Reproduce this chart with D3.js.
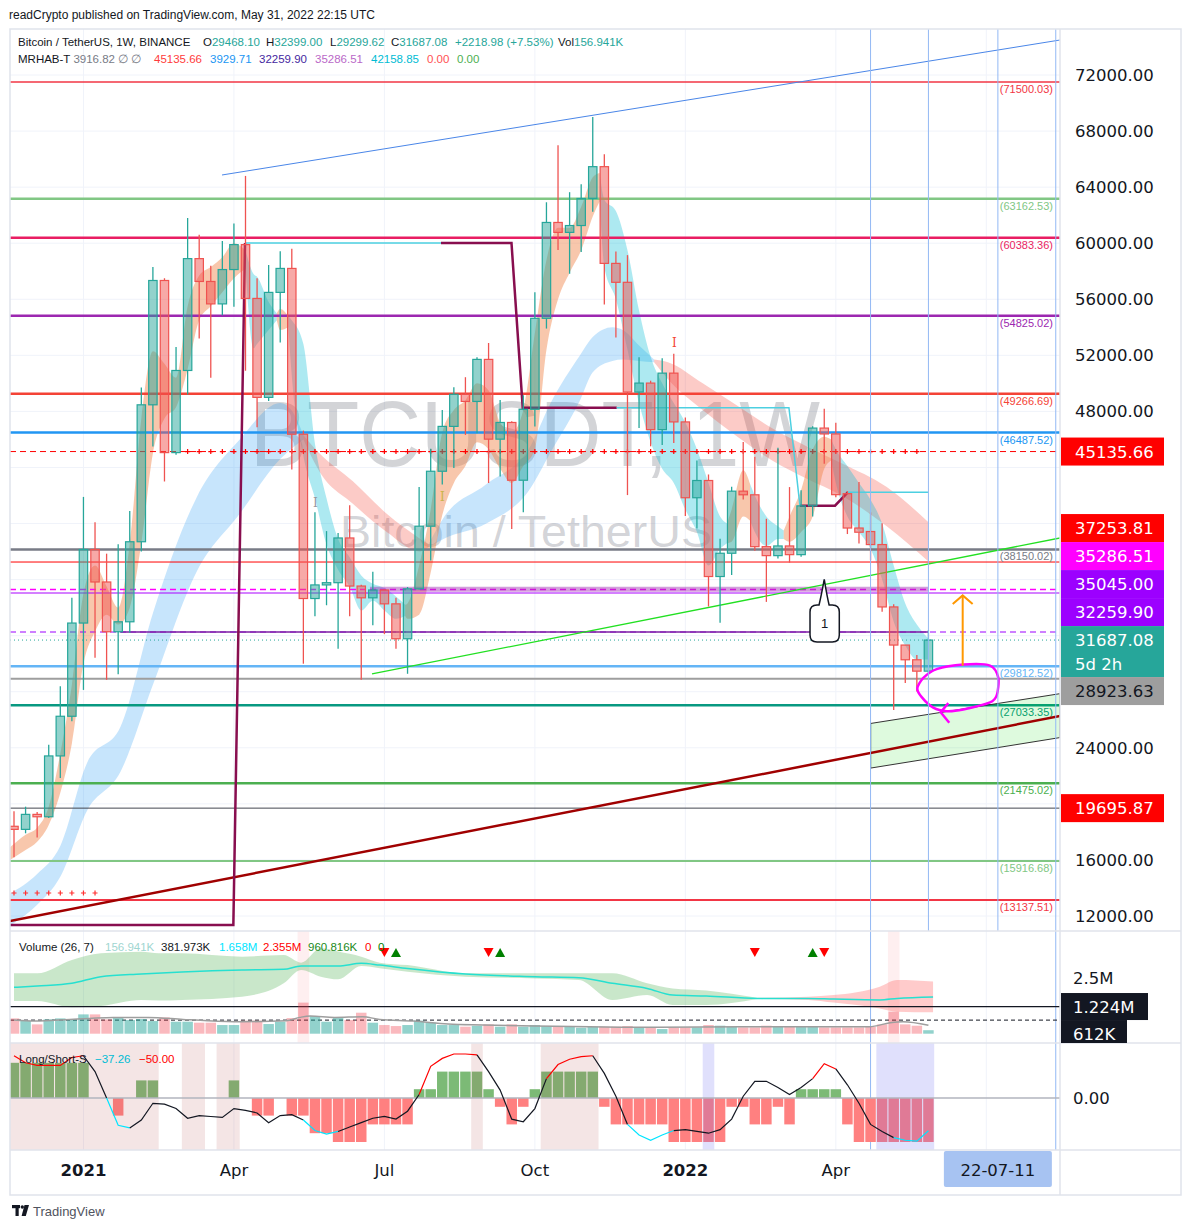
<!DOCTYPE html>
<html>
<head>
<meta charset="utf-8">
<script src="https://cdn.jsdelivr.net/npm/d3@7"></script>
<style>
html,body{margin:0;padding:0;background:#fff;overflow:hidden;}
svg{display:block;}
</style>
</head>
<body>
<svg id="chart" width="1191" height="1229"></svg>
<script>
// ================= DATA =================
const opens=[18400,18180,19250,19080,23420,26250,32900,38150,35830,32280,32990,38700,48470,57340,45060,50920,58900,57270,55670,58120,59900,56060,49000,56490,58200,46370,34650,35620,35780,38970,35540,34700,35260,34270,31780,35340,39810,43730,46930,49220,48710,51710,46020,47210,43090,48150,54640,61480,60770,61260,63190,65460,58560,57210,49380,50020,46700,50730,47250,41840,43070,36220,37880,42310,42050,38350,37710,38400,37780,41260,46810,46390,42130,39680,39430,38500,34050,31330,30280,29468.10];
const highs=[19480,19800,19420,24220,28400,34700,41900,40100,37850,38530,40900,49700,58300,57500,52600,61800,60600,58400,60150,61400,64800,57500,58450,59420,59600,46630,40800,39460,39330,41310,35640,36560,35290,34700,35470,42600,45330,48100,49730,50440,51870,52880,48820,47290,49150,56500,62920,66980,63640,64200,69000,66340,59410,59150,51870,50190,51800,52110,47560,44490,43500,38920,42620,45820,44760,40340,45400,42600,42380,46940,48190,47190,42310,42960,40800,40020,34250,31330,30620,32399.00];
const lows=[16200,17900,17600,19000,21850,25900,28130,30420,28850,29240,32200,38000,45500,43000,44900,49200,53200,50400,54860,55460,50900,46870,48750,52910,43860,30000,33380,34170,31060,33380,28850,32740,32110,31070,29280,35290,37370,42790,43960,46320,46450,42890,43350,39610,40800,46930,53910,59510,57820,59370,62240,55620,53270,42030,46820,45510,45610,45750,40530,39650,34080,32920,36330,41720,38060,34410,37500,37210,37630,40500,44260,41880,39250,38580,37380,33710,26700,28630,28020,29299.62];
const closes=[18180,19250,19080,23420,26250,32900,38150,35830,32280,32990,38700,48470,57340,45060,50920,58900,57270,55670,58120,59900,56060,49000,56490,58200,46370,34650,35620,35780,38970,35540,34700,35260,34270,31780,35340,39810,43730,46930,49220,48710,51710,46020,47210,43090,48150,54640,61480,60770,61260,63190,65460,58560,57210,49380,50020,46700,50730,47250,41840,43070,36220,37880,42310,42050,38350,37710,38400,37780,41260,46810,46390,42060,39680,39380,38500,34050,31330,30280,29468.10,31687.08];
const volumesK=[690,570,420,645,690,645,870,870,645,735,615,660,570,735,540,540,495,495,390,390,585,585,435,540,705,1400,795,540,735,615,945,495,390,345,390,585,495,390,390,315,360,420,315,420,315,390,345,345,315,270,315,315,315,345,285,285,210,285,285,285,390,360,315,285,285,360,345,315,315,315,285,285,285,285,315,420,990,420,360,156.941];
const volMA=[[0,615],[1.8,570],[4.8,645],[6.5,690],[8.6,735],[11.6,735],[14.6,645],[16.7,585],[19.6,540],[23.5,585],[24.7,735],[25.6,795],[27.7,735],[30.1,765],[31.6,645],[34.5,570],[37.5,435],[40.5,390],[45,345],[55.6,285],[62.9,315],[73.9,315],[75.7,495],[76.8,540],[79,382]];
const volBandGreen=[[0,2.72,1.47],[2,2.72,1.47],[5,3.32,1.19],[7.5,3.62,1.25],[11,3.69,1.52],[12.5,3.62,1.49],[14.5,3.62,1.52],[19.7,3.47,1.67],[23.3,3.54,2.27],[24.8,3.2,2.87],[26.5,3.85,2.57],[28,3.7,2.45],[30,3.47,3.05],[31.6,3.2,2.95],[34,3.09,2.79],[39,2.72,2.57],[45,2.72,2.49],[48.8,2.72,2.42],[51.7,2.72,1.52],[54.7,2.27,1.74],[56.9,2.04,1.29],[59.8,1.95,1.29],[64.2,1.62,1.56]];
const volBandPink=[[64.2,1.62,1.56],[68.6,1.67,1.52],[70.8,1.74,1.40],[74.8,2.12,1.14],[76.3,2.42,0.99],[79.4,2.355,0.961]];
const volBandMid=[[0,2.09],[2,2.15],[5,2.27],[7.5,2.57],[11,2.69],[14.5,2.78],[19.7,2.87],[23.3,2.90],[24.8,3.05],[28,3.05],[30,3.17],[31.6,3.09],[34,2.94],[39,2.69],[45,2.57],[48.8,2.52],[51.7,2.27],[54.7,2.04],[56.9,1.74],[59.8,1.70],[64.2,1.59],[68.6,1.59],[70.8,1.56],[74.8,1.52],[76.3,1.59],[79.4,1.658]];
const volSignalDown=[32,41,64,70];
const volSignalUp=[33,42,69];
const volShade=[[24.5,25.5],[75.5,76.5]];
const lsHist=[40,40,40,40,40,40,40,0,0,-20,0,20,20,0,0,0,0,0,0,20,0,-20,-20,0,-20,-20,-40,-40,-50,-50,-50,-30,-30,-30,-30,10,10,30,30,30,30,10,-10,-30,-10,10,30,30,30,30,30,-10,-30,-30,-30,-30,-30,-50,-50,-50,-50,-50,-10,-10,-30,-30,-10,-30,10,10,10,10,-30,-50,-50,-50,-50,-50,-50,-50];
const lsLine=[48,40,37,37,37,46,48,30,0,-31,-34,-25,-6,-7,-12,-23,-20,-21,-22,-12,-14,-17,-28,-20,-19,-25,-37,-41,-38,-33,-28,-23,-21,-24,-15,4,36,45,50,50,49,30,9,-24,-27,-12,22,38,44,47,48,28,2,-30,-42,-48,-42,-37,-36,-38,-40,-36,-24,2,19,19,12,4,12,22,39,33,15,-6,-30,-38,-45,-48,-49,-37.26];
const lsColorRuns=[['r',0,6],['k',6,8],['c',8,10],['k',10,25],['c',25,28],['k',28,35],['r',35,40],['k',40,46],['r',46,50],['k',50,53],['c',53,57],['k',57,69],['r',69,71],['k',71,76],['c',76,79]];
const lsPinkShade=[[-0.5,12.5],[14.5,16.5],[17.5,19.5],[39.5,40.5],[45.5,50.5]];
const lsLavShade=[[59.5,60.5],[74.5,79.5]];
const priceTicks=[72000,68000,64000,60000,56000,52000,48000,44000,40000,36000,32000,28000,24000,20000,16000,12000];
const timeIdx=[6,19,32,45,58,71];
const timeLabels=['2021','Apr','Jul','Oct','2022','Apr'];
const timeBold=[true,false,false,false,true,false];
const gridTimeIdx=[6,19,32,45,58,71,84];
const crossIdx=85, crossLabel='22-07-11';
const levelValues=[71500.03,63162.53,60383.36,54825.02,49266.69,46487.52,38150.02,29812.52,27033.35,21475.02,15916.68,13137.51];
const levelColors=['#f23645','#81c784','#e91e63','#9c27b0','#f44336','#2196f3','#787b86','#64b5f6','#089981','#4caf50','#81c784','#f23645'];
const levelWidths=[1.5,2.5,2.5,2.5,2.5,2.5,2.5,2.5,2.5,2.5,2,2];
const extraValues=[45135.66,37253.81,35286.51,35045.00,32259.90,31687.08,28923.63,19695.87];
const extraColors=['#ff0000','#ff0000','#ff00ff','#aa00ff','#9c00ff','#26a69a','#9e9e9e','#434651'];
const extraWidths=[1,1,1.5,1.2,1.2,1,2,1];
const extraDash=['6,4',null,'6,4',null,'6,4','1,3',null,null];
const boxValues=[45135.66,37253.81,35286.51,35045.00,32259.90,31687.08,28923.63,19695.87];
const boxSub=['','','','','','5d 2h','',''];
const boxColors=['#ff0000','#ff0000','#ff00ff','#9c00ff','#9c00ff','#26a69a','#9e9e9e','#ff0000'];
const boxText=['#fff','#fff','#fff','#fff','#fff','#fff','#131722','#fff'];
const lastPriceBox=5;
const fastSegs=[
 {c:'o',pts:[[-0.35,16900,16000],[1,17800,16700],[2,18300,17300],[3,19800,18500],[4,23600,20800],[5,28500,24300],[6,35000,30000],[7,37000,32300],[8,35500,33500],[9,34000,32800],[10,38600,34000],[11,47500,38600],[12,52300,45000],[13,51400,47500],[14,50400,48300],[15,55500,51000],[16,57700,54500],[17,58300,55500],[18,59000,56500],[19,60000,57500],[20,59500,58200]]},
 {c:'c',pts:[[20,59500,58200],[20.7,57800,52500],[21,57600,52800],[22,55800,53800],[22.7,55000,54500]]},
 {c:'o',pts:[[22.7,55000,54500],[23,55300,53800],[23.7,54800,54000]]},
 {c:'c',pts:[[23.7,54800,54000],[24,54500,50500],[25,52800,44800],[26,45700,41800],[27,41800,38500],[28,38900,36700],[29,37600,35500],[30,36300,33800],[31,35700,34500],[32,35400,33800],[33,34800,33200],[33.8,34200,33400]]},
 {c:'o',pts:[[33.8,34200,33400],[34,34300,33200],[35,37000,33500],[36,41000,36500],[37,46500,40600],[38,48100,42900],[39,48800,44100],[40,50000,45800],[41,49500,45300],[42,47200,43900],[43,46500,42900],[44,48100,44100],[45,53600,45300],[46,58800,52400],[47,61100,56000],[48,61100,57900],[49,62600,59500],[50,64700,61900],[50.6,65000,63000]]},
 {c:'c',pts:[[50.6,65000,63000],[51,63100,58300],[52,62300,56000],[53,59500,52400],[54,55200,48600],[55,51900,45800],[56,50000,43900],[57,48600,42900],[58,47200,41000],[59,45300,39400],[60,42900,37000],[61,40500,38200],[61.6,40000,38600]]},
 {c:'o',pts:[[61.6,40000,38600],[62,41000,38700],[63,43800,40500],[63.6,42800,40200]]},
 {c:'c',pts:[[63.6,42800,40200],[64,42000,39400],[65,40500,38400],[66,39800,38900],[66.5,39500,38900]]},
 {c:'o',pts:[[66.5,39500,38900],[67,40500,38700],[68,42400,39400],[69,45300,40500],[70,46200,43900],[70.6,46000,44500]]},
 {c:'c',pts:[[70.6,46000,44500],[71,45300,42900],[72,44100,40500],[73,42900,39400],[74,41700,38200],[75,40000,36000],[76,37000,33000],[77,34300,31300],[78,32800,30300],[79,31800,30300]]}
];
const slowSegs=[
 {c:'b',pts:[[-0.35,13600,11300],[2,15000,12800],[4,17000,14800],[6.3,22900,19500],[9.2,25500,22300],[12,33600,28500],[15.8,41900,36600],[19.5,46000,40700],[23,48600,44600],[24.2,47800,45500],[25,46300,46000]]},
 {c:'p',pts:[[25,46300,46000],[26.4,45000,43700],[29.3,43000,41400],[32.2,40700,39400],[35.1,38900,38000],[35.8,38500,38300]]},
 {c:'b',pts:[[35.8,38500,38300],[37.1,40400,38900],[40.8,42800,40000],[44.6,45500,42500],[46.3,48500,45000],[48.9,52000,48800],[50,53300,50800],[51.7,54000,51600],[52.6,53800,51700],[54,52700,51600],[55.3,51700,51500]]},
 {c:'p',pts:[[55.3,51700,51500],[56.5,51500,50300],[59.5,50000,48100],[62.5,48400,46200],[65.5,46800,44500],[68.5,45500,43200],[71.5,44300,42000],[75.4,42600,39800],[79,40100,37300]]}
];
const stepMaroon=[[[-0.35,11361],[18.95,11361],[19.96,60015]],[[36.89,60015],[42.98,60015],[43.95,48265],[52.07,48265]],[[67.9,41274],[70.93,41274],[72.03,42225]]];
const stepCyan=[[[19.96,60015],[36.89,60015]],[[52.07,48265],[66.95,48265],[67.9,41274]],[[72.03,42225],[78.96,42225]]];
const blueTrend=[[17.97,64866],[90.37,74497]];
const redTrend=[[-0.35,11646],[90.37,26271]];
const greenTrend=[[30.93,29267],[90.37,38970]];
const channel=[[74.01,25736],[90.37,27862],[90.37,24730],[74.01,22554]];
const purpleBand=[[30.76,35318],[79,35318]];
const purpleSolid=[[9.2,32259.9],[79,32259.9]];
const vLinesFull=[74,90];
const vLinesMain=[79,85];
const plusLevel=45135.66, plusFrom=15, plusTo=78;
const plusLow=13640, plusLowTo=7;
const iMarks=[[26.03,41566,'#9598a1'],[37,41944,'#c8b44a'],[57.05,52920,'#f44336']];
const loopPts=[[78.04,28240],[78.56,28990],[79.71,29617],[82.01,29938],[84.32,29867],[85.04,28990],[84.9,27734],[84.32,27235],[82.01,26735],[80.58,26614],[79.42,26864],[78.42,27613]];
const loopHook=[[80.72,27185],[80.06,26535],[80.8,25786]];
const arrowShaft=[[81.96,29866],[81.96,34874]];
const arrowHead=[[81.1,34260],[81.96,34874],[82.82,34260]];
const callout={tip:[70.0,36009],left:68.77,right:71.3,top:34190,bottom:31550,baseL:69.55,baseR:70.42,label:'1'};

// ================= SCALES / LAYOUT =================
const svg=d3.select('#chart');
const X0=14,STEP=11.575;
const x=d3.scaleLinear().domain([0,79]).range([X0,X0+79*STEP]);
const y=d3.scaleLinear().domain([12000,72000]).range([916,75]);
const yV=d3.scaleLinear().domain([0,2.5e6]).range([1033.7,978.2]);
const yL=d3.scaleLinear().domain([-50,50]).range([1142,1054]);
const PL=10,PR=1060,MT=29,MB=931,VB=1043,LB=1150,RR=1181,BB=1195;
const FONT='"Liberation Sans",Arial,sans-serif';
const AXF='"DejaVu Sans",sans-serif';
const INK='#131722';

const defs=svg.append('defs');
function clip(id,x0,y0,w,h){defs.append('clipPath').attr('id',id).append('rect').attr('x',x0).attr('y',y0).attr('width',w).attr('height',h);}
clip('cm',PL,MT,PR-PL,MB-MT);
clip('cv',PL,MB,PR-PL,VB-MB);
clip('cl',PL,VB,PR-PL,LB-VB);
clip('cav',PR,MB,RR-PR,VB-MB);

svg.append('rect').attr('width',1191).attr('height',1229).attr('fill','#fff');

// grid
const gGrid=svg.append('g');
priceTicks.forEach(v=>gGrid.append('line').attr('x1',PL).attr('x2',PR).attr('y1',y(v)).attr('y2',y(v)).attr('stroke','#f0f3fa'));
gridTimeIdx.forEach(i=>gGrid.append('line').attr('x1',x(i)).attr('x2',x(i)).attr('y1',MT).attr('y2',LB).attr('stroke','#f0f3fa'));

// ================= MAIN PANE =================
const gM=svg.append('g').attr('clip-path','url(#cm)');
const cxm=(PL+PR)/2, cym=(MT+MB)/2;
gM.append('text').attr('x',cxm).attr('y',cym-14).attr('text-anchor','middle').attr('font-family',FONT)
  .attr('font-size',92).attr('fill','rgba(120,123,134,0.33)').attr('textLength',570).attr('lengthAdjust','spacingAndGlyphs').text('BTCUSDT, 1W');
gM.append('text').attr('x',cxm-9).attr('y',cym+67).attr('text-anchor','middle').attr('font-family',FONT)
  .attr('font-size',45).attr('fill','rgba(120,123,134,0.33)').attr('textLength',372).attr('lengthAdjust','spacingAndGlyphs').text('Bitcoin / TetherUS');

const ribbonFill={o:'rgba(240,130,70,0.45)',c:'rgba(0,188,212,0.32)',b:'rgba(33,150,243,0.25)',p:'rgba(244,67,54,0.28)'};
const rArea=d3.area().x(d=>x(d[0])).y0(d=>y(d[2])).y1(d=>y(d[1])).curve(d3.curveMonotoneX);
slowSegs.forEach(s=>gM.append('path').attr('d',rArea(s.pts)).attr('fill',ribbonFill[s.c]));
fastSegs.forEach(s=>gM.append('path').attr('d',rArea(s.pts)).attr('fill',ribbonFill[s.c]));

// level lines
levelValues.forEach((v,k)=>{
  gM.append('line').attr('x1',PL).attr('x2',PR).attr('y1',y(v)).attr('y2',y(v)).attr('stroke',levelColors[k]).attr('stroke-width',levelWidths[k]);
});
extraValues.forEach((v,k)=>{
  const l=gM.append('line').attr('x1',PL).attr('x2',PR).attr('y1',y(v)).attr('y2',y(v)).attr('stroke',extraColors[k]).attr('stroke-width',extraWidths[k]);
  if(extraDash[k]) l.attr('stroke-dasharray',extraDash[k]);
});
const pl=d3.line().x(d=>x(d[0])).y(d=>y(d[1]));
gM.append('path').attr('d',pl(purpleBand)).attr('stroke','rgba(156,39,176,0.45)').attr('stroke-width',5).attr('fill','none');
gM.append('path').attr('d',pl(purpleSolid)).attr('stroke','#7b1fa2').attr('stroke-width',1.6).attr('fill','none');
levelValues.forEach((v,k)=>{
  gM.append('text').attr('x',1053).attr('y',y(v)+11).attr('text-anchor','end').attr('font-family',FONT).attr('font-size',11)
    .attr('fill',levelColors[k]).text('('+v.toFixed(2)+')');
});

// plus markers
function plus(g,cx,cy,col){g.append('path').attr('d',`M${cx-2.5},${cy}H${cx+2.5}M${cx},${cy-2.5}V${cy+2.5}`).attr('stroke',col).attr('stroke-width',1.2);}
d3.range(plusFrom,plusTo+1).forEach(i=>plus(gM,x(i),y(plusLevel),'#ff0000'));
d3.range(0,plusLowTo+1).forEach(i=>plus(gM,x(i),y(plusLow),'#ff3030'));

// channel + trends
gM.append('path').attr('d',pl(channel)+'Z').attr('fill','rgba(0,220,0,0.13)').attr('stroke','#333').attr('stroke-width',1);
gM.append('path').attr('d',pl(redTrend)).attr('stroke','#a00000').attr('stroke-width',2.5).attr('fill','none');
gM.append('path').attr('d',pl(greenTrend)).attr('stroke','#22e022').attr('stroke-width',1.3).attr('fill','none');
gM.append('path').attr('d',pl(blueTrend)).attr('stroke','#4a86e8').attr('stroke-width',1).attr('fill','none');
stepMaroon.forEach(s=>gM.append('path').attr('d',pl(s)).attr('stroke','#880e4f').attr('stroke-width',2.5).attr('fill','none'));
stepCyan.forEach(s=>gM.append('path').attr('d',pl(s)).attr('stroke','#4dd0e1').attr('stroke-width',1.5).attr('fill','none'));

// candles
const gC=gM.append('g');
closes.forEach((c,i)=>{
  const o=opens[i],up=c>=o,col=up?'#26a69a':'#ef5350';
  const top=y(Math.max(o,c)),bot=y(Math.min(o,c));
  gC.append('line').attr('x1',x(i)).attr('x2',x(i)).attr('y1',y(highs[i])).attr('y2',top).attr('stroke',col).attr('stroke-width',1.3);
  gC.append('line').attr('x1',x(i)).attr('x2',x(i)).attr('y1',bot).attr('y2',y(lows[i])).attr('stroke',col).attr('stroke-width',1.3);
  gC.append('rect').attr('x',x(i)-4.2).attr('y',top).attr('width',8.4).attr('height',Math.max(1.5,bot-top))
    .attr('fill',up?'rgba(38,166,154,0.5)':'rgba(239,83,80,0.5)').attr('stroke',col).attr('stroke-width',1.2);
});
iMarks.forEach(m=>gM.append('text').attr('x',x(m[0])).attr('y',y(m[1])+5).attr('text-anchor','middle').attr('font-family','"DejaVu Serif",serif').attr('font-size',12).attr('fill',m[2]).text('I'));

// annotations
gM.append('path').attr('d',d3.line().x(d=>x(d[0])).y(d=>y(d[1])).curve(d3.curveCardinalClosed.tension(0.2))(loopPts))
  .attr('fill','none').attr('stroke','#ff00ff').attr('stroke-width',2.5);
gM.append('path').attr('d',pl(loopHook)).attr('fill','none').attr('stroke','#ff00ff').attr('stroke-width',2.5);
gM.append('path').attr('d',pl(arrowShaft)).attr('stroke','#ff9800').attr('stroke-width',2).attr('fill','none');
gM.append('path').attr('d',pl(arrowHead)).attr('stroke','#ff9800').attr('stroke-width',2).attr('fill','none');
(function(){
  const L=x(callout.left),R=x(callout.right),T=y(callout.top),B=y(callout.bottom),r=7;
  const tx=x(callout.tip[0]),ty=y(callout.tip[1]),bl=x(callout.baseL),br=x(callout.baseR);
  const d=`M${L+r},${T}L${bl},${T}Q${bl+2},${T-8} ${tx},${ty}Q${br-2},${T-8} ${br},${T}L${R-r},${T}Q${R},${T} ${R},${T+r}L${R},${B-r}Q${R},${B} ${R-r},${B}L${L+r},${B}Q${L},${B} ${L},${B-r}L${L},${T+r}Q${L},${T} ${L+r},${T}Z`;
  gM.append('path').attr('d',d).attr('fill','#fff').attr('stroke','#131722').attr('stroke-width',1.5);
  gM.append('text').attr('x',(L+R)/2).attr('y',(T+B)/2+5).attr('text-anchor','middle').attr('font-family',FONT).attr('font-size',13).attr('fill',INK).text(callout.label);
})();

// vertical blue lines
vLinesFull.forEach(i=>svg.append('line').attr('x1',x(i)).attr('x2',x(i)).attr('y1',MT).attr('y2',LB).attr('stroke','#92b8f4').attr('stroke-width',1));
vLinesMain.forEach(i=>svg.append('line').attr('x1',x(i)).attr('x2',x(i)).attr('y1',MT).attr('y2',MB).attr('stroke','#92b8f4').attr('stroke-width',1));

// header texts
svg.append('text').attr('x',9).attr('y',19).attr('font-family',FONT).attr('font-size',12).attr('fill',INK).text('readCrypto published on TradingView.com, May 31, 2022 22:15 UTC');
const TEAL='#26a69a';
function htext(xp,yp,parts,fs){const t=svg.append('text').attr('x',xp).attr('y',yp).attr('font-family',FONT).attr('font-size',fs||11.5);parts.forEach(p=>t.append('tspan').attr('fill',p[1]).text(p[0]));}
htext(18,46,[['Bitcoin / TetherUS, 1W, BINANCE',INK]]);
htext(203,46,[['O',INK],['29468.10',TEAL]]);
htext(266,46,[['H',INK],['32399.00',TEAL]]);
htext(330,46,[['L',INK],['29299.62',TEAL]]);
htext(391,46,[['C',INK],['31687.08',TEAL]]);
htext(455,46,[['+2218.98 (+7.53%)',TEAL]]);
htext(558,46,[['Vol',INK],['156.941K',TEAL]]);
htext(18,63,[['MRHAB-T',INK],['  3916.82  ∅  ∅','#787b86']]);
htext(154,63,[['45135.66','#ff3b3b']]);
htext(210,63,[['3929.71','#2196f3']]);
htext(259,63,[['32259.90','#4527a0']]);
htext(315,63,[['35286.51','#ba68c8']]);
htext(371,63,[['42158.85','#00bcd4']]);
htext(427,63,[['0.00','#ff5252']]);
htext(457,63,[['0.00','#4caf50']]);

// ================= VOLUME PANE =================
const gV=svg.append('g').attr('clip-path','url(#cv)');
volShade.forEach(r=>gV.append('rect').attr('x',x(r[0])).attr('width',x(r[1])-x(r[0])).attr('y',MB).attr('height',VB-MB).attr('fill','rgba(242,54,69,0.08)'));
const vArea=d3.area().x(d=>x(d[0])).y0(d=>yV(d[2]*1e6)).y1(d=>yV(d[1]*1e6)).curve(d3.curveMonotoneX);
gV.append('path').attr('d',vArea(volBandGreen)).attr('fill','rgba(76,175,80,0.3)');
gV.append('path').attr('d',vArea(volBandPink)).attr('fill','rgba(255,82,82,0.3)');
gV.append('path').attr('d',d3.line().x(d=>x(d[0])).y(d=>yV(d[1]*1e6)).curve(d3.curveMonotoneX)(volBandMid)).attr('fill','none').attr('stroke','#26e0d0').attr('stroke-width',1.5);
gV.append('line').attr('x1',PL).attr('x2',PR).attr('y1',yV(1.224e6)).attr('y2',yV(1.224e6)).attr('stroke',INK).attr('stroke-width',1.2);
gV.append('line').attr('x1',PL).attr('x2',PR).attr('y1',yV(612e3)).attr('y2',yV(612e3)).attr('stroke',INK).attr('stroke-width',1).attr('stroke-dasharray','4,3');
volumesK.forEach((v,i)=>{
  const up=closes[i]>=opens[i];
  gV.append('rect').attr('x',x(i)-5.25).attr('width',10.5).attr('y',yV(v*1000)).attr('height',yV(0)-yV(v*1000))
    .attr('fill',up?'rgba(38,166,154,0.5)':'rgba(242,54,69,0.35)');
});
gV.append('path').attr('d',d3.line().x(d=>x(d[0])).y(d=>yV(d[1]*1000)).curve(d3.curveMonotoneX)(volMA)).attr('fill','none').attr('stroke','#9e9e9e').attr('stroke-width',1.5);
const triY=953;
volSignalDown.forEach(i=>gV.append('path').attr('d',`M${x(i)-5},${triY-5}L${x(i)+5},${triY-5}L${x(i)},${triY+4}Z`).attr('fill','#ff0000'));
volSignalUp.forEach(i=>gV.append('path').attr('d',`M${x(i)-5},${triY+4}L${x(i)+5},${triY+4}L${x(i)},${triY-5}Z`).attr('fill','#008000'));
htext(19,951,[['Volume (26, 7)',INK]]);
htext(105,951,[['156.941K','#9fd6d1']]);
htext(161,951,[['381.973K',INK]]);
htext(219,951,[['1.658M','#00e5ff']]);
htext(263,951,[['2.355M','#ff0000']]);
htext(308,951,[['960.816K','#1b8a1b']]);
htext(365,951,[['0','#ff0000']]);
htext(378,951,[['0','#008000']]);

// ================= LONG/SHORT PANE =================
const gL=svg.append('g').attr('clip-path','url(#cl)');
lsHist.forEach((v,i)=>{
  if(v===0)return;
  const y0=yL(0),y1=yL(v);
  gL.append('rect').attr('x',x(i)-5.25).attr('width',10.5).attr('y',Math.min(y0,y1)).attr('height',Math.abs(y1-y0)).attr('fill',v>0?'#7cba76':'#ff8080');
});
lsPinkShade.forEach(r=>gL.append('rect').attr('x',x(r[0])).attr('width',x(r[1])-x(r[0])).attr('y',VB).attr('height',LB-VB).attr('fill','rgba(180,80,80,0.15)'));
lsLavShade.forEach(r=>gL.append('rect').attr('x',x(r[0])).attr('width',x(r[1])-x(r[0])).attr('y',VB).attr('height',LB-VB).attr('fill','rgba(100,100,240,0.2)'));
gL.append('line').attr('x1',PL).attr('x2',PR).attr('y1',yL(0)).attr('y2',yL(0)).attr('stroke','#b2b5be').attr('stroke-width',1.5);
const lsCol={r:'#ff0000',k:'#131722',c:'#00e5ff'};
const lsl=d3.line().x(d=>x(d)).y(d=>yL(lsLine[d]));
lsColorRuns.forEach(r=>gL.append('path').attr('d',lsl(d3.range(r[1],r[2]+1))).attr('fill','none').attr('stroke',lsCol[r[0]]).attr('stroke-width',1.2));
htext(19,1063,[['Long/Short-S',INK]]);
htext(95,1063,[['−37.26','#00bcd4']]);
htext(139,1063,[['−50.00','#ff0000']]);

// ================= FRAME =================
svg.append('rect').attr('x',PL).attr('y',MT).attr('width',RR-PL).attr('height',BB-MT).attr('fill','none').attr('stroke','#e0e3eb').attr('stroke-width',1.5);
[MB,VB,LB].forEach(yy=>svg.append('line').attr('x1',PL).attr('x2',RR).attr('y1',yy).attr('y2',yy).attr('stroke','#e0e3eb').attr('stroke-width',1.5));
svg.append('line').attr('x1',PR).attr('x2',PR).attr('y1',MT).attr('y2',BB).attr('stroke','#e0e3eb').attr('stroke-width',1.5);

// ================= PRICE AXIS =================
// last-price label stays at its level; the other labels stack away from it
const boxes=boxValues.map((v,k)=>({k,v,h:boxSub[k]?51:28}));
boxes.forEach(b=>{b.c=(b.k===lastPriceBox)?y(b.v)-14+b.h/2:y(b.v);});
const anchor=boxes.find(b=>b.k===lastPriceBox);
let lim=anchor.c-anchor.h/2;
boxes.filter(b=>b.k!==lastPriceBox&&y(b.v)<=y(anchor.v)).sort((a,b)=>b.c-a.c).forEach(b=>{b.c=Math.min(b.c,lim-b.h/2);lim=b.c-b.h/2;});
lim=anchor.c+anchor.h/2;
boxes.filter(b=>b.k!==lastPriceBox&&y(b.v)>y(anchor.v)).sort((a,b)=>a.c-b.c).forEach(b=>{b.c=Math.max(b.c,lim+b.h/2);lim=b.c+b.h/2;});
priceTicks.forEach(v=>{
  const ty=y(v);
  if(boxes.some(b=>Math.abs(b.c-ty)<b.h/2+7))return;
  svg.append('text').attr('x',1075).attr('y',ty+6).attr('font-family',AXF).attr('font-size',16.5).attr('fill',INK).text(v.toFixed(2));
});
boxes.forEach(b=>{
  const top=b.c-b.h/2;
  svg.append('rect').attr('x',1061).attr('y',top).attr('width',103).attr('height',b.h).attr('fill',boxColors[b.k]);
  svg.append('text').attr('x',1075).attr('y',top+20).attr('font-family',AXF).attr('font-size',16.5).attr('fill',boxText[b.k]).text(b.v.toFixed(2));
  if(boxSub[b.k]) svg.append('text').attr('x',1075).attr('y',top+44).attr('font-family',AXF).attr('font-size',16.5).attr('fill',boxText[b.k]).text(boxSub[b.k]);
});
// volume axis
svg.append('text').attr('x',1073).attr('y',yV(2.5e6)+6).attr('font-family',AXF).attr('font-size',16.5).attr('fill',INK).text('2.5M');
const gVA=svg.append('g').attr('clip-path','url(#cav)');
const b1c=yV(1.224e6), b2c=Math.max(yV(612e3),b1c+27);
gVA.append('rect').attr('x',1061).attr('y',b1c-13.5).attr('width',87).attr('height',27).attr('fill',INK);
gVA.append('text').attr('x',1073).attr('y',b1c+6).attr('font-family',AXF).attr('font-size',16.5).attr('fill','#fff').text('1.224M');
gVA.append('rect').attr('x',1061).attr('y',b2c-13.5).attr('width',66).attr('height',27).attr('fill',INK);
gVA.append('text').attr('x',1073).attr('y',b2c+6).attr('font-family',AXF).attr('font-size',16.5).attr('fill','#fff').text('612K');
// LS axis
svg.append('text').attr('x',1073).attr('y',yL(0)+6).attr('font-family',AXF).attr('font-size',16.5).attr('fill',INK).text('0.00');

// ================= TIME AXIS =================
timeIdx.forEach((ti,k)=>{
  svg.append('text').attr('x',x(ti)).attr('y',1176).attr('text-anchor','middle').attr('font-family',AXF).attr('font-size',16.5)
    .attr('font-weight',timeBold[k]?'bold':'normal').attr('fill',INK).text(timeLabels[k]);
});
svg.append('rect').attr('x',x(crossIdx)-54).attr('y',1151).attr('width',108).attr('height',36).attr('rx',2).attr('fill','#a7c3f2');
svg.append('text').attr('x',x(crossIdx)).attr('y',1176).attr('text-anchor','middle').attr('font-family',AXF).attr('font-size',16.5).attr('fill',INK).text(crossLabel);

// ================= FOOTER =================
const gLogo=svg.append('g').attr('fill','#131722');
gLogo.append('rect').attr('x',12).attr('y',1205).attr('width',8).attr('height',3.2);
gLogo.append('rect').attr('x',15.5).attr('y',1205).attr('width',3.2).attr('height',11);
gLogo.append('circle').attr('cx',22.3).attr('cy',1207).attr('r',1.7);
gLogo.append('path').attr('d','M24.5,1205H29L25.8,1216H21.6Z');
svg.append('text').attr('x',33).attr('y',1216).attr('font-family',FONT).attr('font-size',13).attr('fill','#50535e').text('TradingView');
</script>
</body>
</html>
